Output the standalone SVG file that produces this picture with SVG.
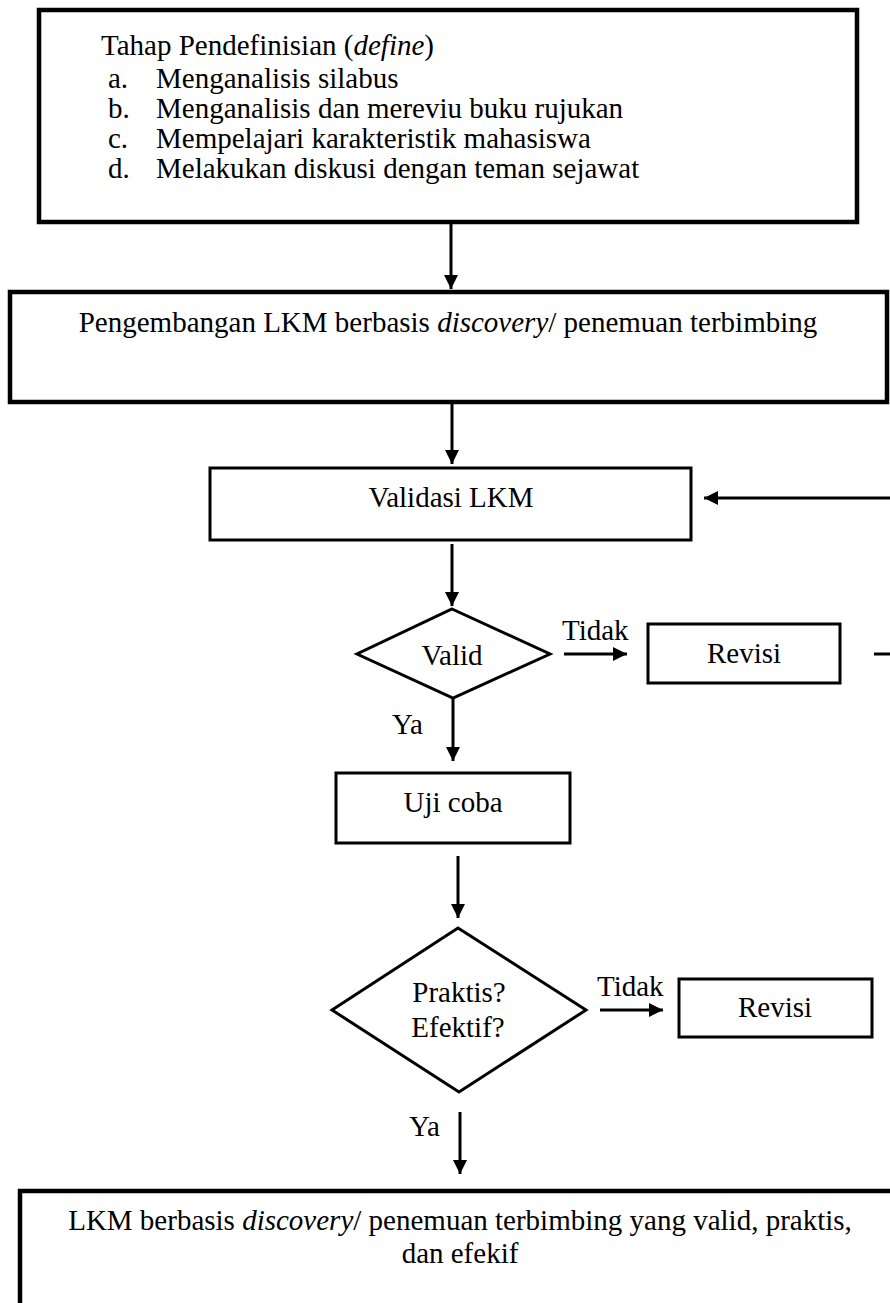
<svg xmlns="http://www.w3.org/2000/svg" width="890" height="1303" viewBox="0 0 890 1303">
<defs>
<style>
text{font-family:"Liberation Serif","Times New Roman",serif;font-size:29px;fill:#000}
.c{text-anchor:middle}
.box{fill:#fff;stroke:#000;stroke-width:3}
.thick{stroke-width:4.5}
.ln{fill:none;stroke:#000;stroke-width:3}
.arr{fill:none;stroke:#000;stroke-width:3;marker-end:url(#ah)}
</style>
<marker id="ah" markerUnits="userSpaceOnUse" markerWidth="14" markerHeight="14" refX="14" refY="7" orient="auto">
<path d="M0,0 L14,7 L0,14 Z" fill="#000"/>
</marker>
</defs>
<rect width="890" height="1303" fill="#fff"/>
<g id="define">
<rect class="box thick" x="39" y="10" width="818" height="212"/>
<text x="101" y="55">Tahap Pendefinisian (<tspan font-style="italic">define</tspan>)</text>
<text x="108" y="88">a.</text><text x="156" y="88">Menganalisis silabus</text>
<text x="108" y="118">b.</text><text x="156" y="118">Menganalisis dan mereviu buku rujukan</text>
<text x="108" y="148">c.</text><text x="156" y="148">Mempelajari karakteristik mahasiswa</text>
<text x="108" y="178">d.</text><text x="156" y="178">Melakukan diskusi dengan teman sejawat</text>
</g>
<g id="pengembangan">
<rect class="box thick" x="10" y="292" width="877" height="110"/>
<text class="c" x="448" y="332">Pengembangan LKM berbasis <tspan font-style="italic">discovery</tspan>/ penemuan terbimbing</text>
</g>
<g id="validasi">
<rect class="box" x="210" y="468" width="481" height="72"/>
<text class="c" x="451" y="507">Validasi LKM</text>
</g>
<g id="valid">
<polygon class="box" points="452,609 550,654 453,698 357,654"/>
<text class="c" x="452" y="665">Valid</text>
</g>
<g id="revisi1">
<rect class="box" x="648" y="624" width="192" height="59"/>
<text class="c" x="744" y="663">Revisi</text>
</g>
<g id="ujicoba">
<rect class="box" x="336" y="773" width="234" height="70"/>
<text class="c" x="453" y="812">Uji coba</text>
</g>
<g id="praktis">
<polygon class="box" points="458,928 586,1010 459,1092 332,1010"/>
<text class="c" x="459" y="1002">Praktis?</text>
<text class="c" x="458" y="1037">Efektif?</text>
</g>
<g id="revisi2">
<rect class="box" x="679" y="979" width="193" height="58"/>
<text class="c" x="775" y="1017">Revisi</text>
</g>
<g id="hasil">
<rect class="box thick" x="20" y="1191" width="890" height="140"/>
<text class="c" x="460" y="1230">LKM berbasis <tspan font-style="italic">discovery</tspan>/ penemuan terbimbing yang valid, praktis,</text>
<text class="c" x="460" y="1263">dan efekif</text>
</g>
<g id="connectors">
<line class="arr" x1="451" y1="222" x2="451" y2="289"/>
<line class="arr" x1="452" y1="402" x2="452" y2="464"/>
<line class="arr" x1="890" y1="498" x2="704" y2="498"/>
<line class="arr" x1="452" y1="544" x2="452" y2="606"/>
<line class="arr" x1="564" y1="654" x2="627" y2="654"/>
<line class="ln" x1="874" y1="654" x2="890" y2="654"/>
<line class="arr" x1="453" y1="698" x2="453" y2="761"/>
<line class="arr" x1="458" y1="856" x2="458" y2="918"/>
<line class="arr" x1="600" y1="1010" x2="663" y2="1010"/>
<line class="arr" x1="460" y1="1112" x2="460" y2="1174"/>
<text x="562" y="640">Tidak</text>
<text x="392" y="734">Ya</text>
<text x="597" y="996">Tidak</text>
<text x="409" y="1136">Ya</text>
</g>
</svg>
